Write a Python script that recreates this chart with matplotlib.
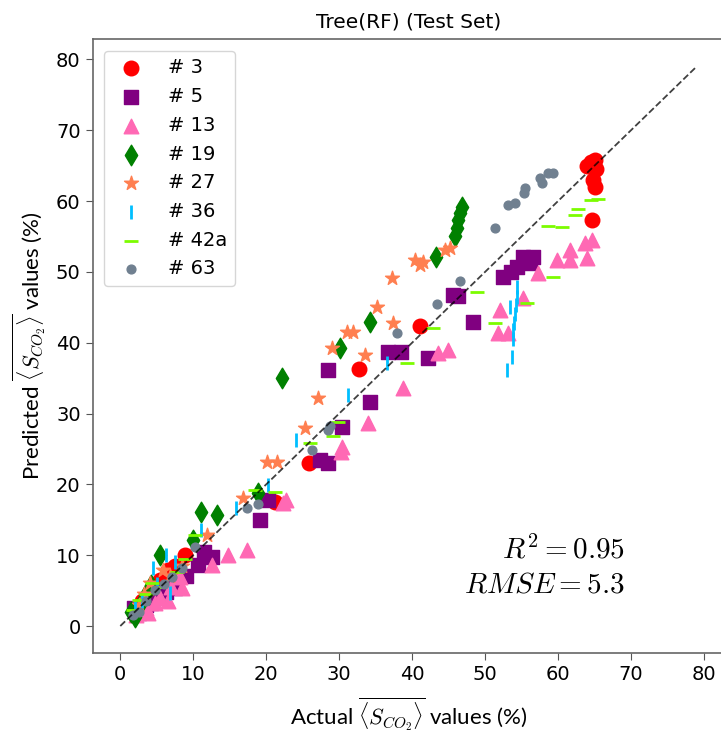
import matplotlib
matplotlib.use("Agg")
import matplotlib.pyplot as plt

# values (actual, predicted), per sample
s3_x = [64.0, 64.5, 65.0, 65.2, 64.8, 65.0, 64.6, 41.1, 32.7, 25.8, 21.2, 8.9, 6.6, 4.5, 3.0, 2.0,
        5.5, 7.5]
s3_y = [65.0, 65.5, 65.8, 64.5, 63.0, 62.0, 57.3, 42.4, 36.3, 23.0, 17.5, 10.0, 7.9, 5.0, 3.5, 2.5,
        6.5, 8.5]

s5_x = [55.2, 56.6, 54.4, 52.5, 56.2, 53.5, 46.3, 45.6, 48.4, 42.2, 36.7, 38.4, 28.5, 34.2,
        30.4, 27.4, 28.4, 20.3, 19.2, 12.6, 10.7, 11.5, 7.5, 5.1, 3.5, 1.9, 2.5, 4.2, 6.2, 9.0]
s5_y = [52.1, 52.1, 50.7, 49.3, 51.2, 50.0, 46.6, 46.7, 42.9, 37.8, 38.7, 38.7, 36.1, 31.6,
        28.1, 23.4, 23.0, 17.8, 15.0, 9.7, 8.6, 10.5, 5.4, 4.1, 3.0, 2.5, 1.8, 3.2, 4.8, 7.0]

s13_x = [59.9, 61.6, 61.6, 63.7, 64.7, 63.9, 57.3, 55.2, 52.1, 51.8, 53.2, 44.9, 43.6, 38.8,
         34.0, 30.4, 30.2, 22.3, 22.7, 17.4, 14.8, 12.6, 8.2, 8.5, 4.8, 3.8, 3.0, 2.2,
         5.5, 6.5, 7.0, 3.5]
s13_y = [51.7, 53.1, 51.7, 54.1, 54.5, 52.0, 49.8, 46.3, 44.6, 41.4, 41.4, 39.0, 38.5, 33.6,
         28.7, 25.3, 24.6, 17.4, 17.8, 10.7, 10.0, 8.6, 6.9, 5.4, 3.2, 1.8, 2.3, 1.5,
         4.0, 3.5, 5.5, 2.5]

s19_x = [46.8, 46.6, 46.3, 46.2, 45.9, 43.2, 34.2, 30.1, 22.2, 18.9, 11.0, 13.3, 10.0, 5.5, 3.5, 2.0,
         2.8, 4.2, 1.5]
s19_y = [59.2, 58.3, 57.3, 56.2, 55.1, 52.1, 42.9, 39.2, 35.0, 18.8, 16.1, 15.7, 12.1, 10.0, 4.5, 1.3,
         3.2, 5.8, 2.0]

s27_x = [45.2, 44.5, 40.4, 41.5, 41.1, 37.3, 35.2, 37.4, 31.9, 31.1, 29.0, 33.6, 27.1, 25.3,
         20.1, 21.5, 16.8, 11.9, 5.8, 4.1, 2.5, 3.3, 6.8, 8.5]
s27_y = [53.4, 53.1, 51.7, 51.4, 51.0, 49.1, 45.0, 42.8, 41.5, 41.5, 39.2, 38.3, 32.2, 28.0,
         23.2, 23.2, 18.1, 12.8, 7.9, 6.1, 3.0, 4.5, 7.0, 8.5]

s36_x = [54.4, 54.3, 54.2, 54.1, 54.0, 53.8, 53.8, 53.4, 53.7, 53.0, 36.6, 31.2, 24.1, 20.3,
         15.8, 11.0, 6.2, 4.5, 6.8, 3.0, 2.0, 5.0, 7.5]
s36_y = [47.8, 46.5, 45.3, 44.0, 42.8, 41.8, 40.5, 45.0, 38.0, 36.1, 37.1, 32.6, 26.3, 19.9,
         16.7, 13.5, 10.0, 8.2, 4.7, 3.5, 2.5, 6.0, 9.0]

s42_x = [64.5, 65.5, 62.7, 62.3, 58.6, 60.5, 59.3, 55.8, 51.4, 48.9, 42.9, 39.3, 29.9, 29.2,
         26.0, 21.2, 18.5, 10.3, 7.8, 4.4, 2.5, 3.5, 5.5, 8.8, 1.8]
s42_y = [60.1, 60.3, 58.9, 58.0, 56.5, 56.3, 49.3, 45.6, 42.8, 47.2, 42.1, 37.1, 28.8, 26.8,
         25.8, 18.9, 19.2, 12.8, 7.6, 6.1, 3.7, 4.5, 5.5, 9.5, 2.2]

s63_x = [59.3, 58.6, 57.5, 57.8, 55.5, 55.3, 54.1, 53.2, 51.4, 46.6, 43.4, 37.9, 28.4, 28.8,
         26.3, 17.4, 18.9, 10.3, 7.1, 4.8, 2.5, 3.5, 6.0, 8.5, 1.8]
s63_y = [64.0, 64.0, 63.2, 62.5, 61.8, 61.1, 59.7, 59.4, 56.2, 48.7, 45.5, 41.4, 27.7, 28.3,
         24.8, 16.7, 17.2, 11.2, 6.9, 5.1, 2.0, 3.5, 6.0, 8.2, 1.5]

line_lo, line_hi = 0.0, 78.9
r2, rmse = 0.95, 5.3

plt.rcParams["mathtext.fontset"] = "cm"

fig = plt.figure(figsize=(7.21, 7.36), dpi=100)
ax = fig.add_axes([92.5 / 721, 83 / 736, 632.5 / 721, 614 / 736])

ax.scatter(s3_x, s3_y, s=110, marker="o", color="red", label="# 3", zorder=3)
ax.scatter(s5_x, s5_y, s=100, marker="s", color="purple", label="# 5", zorder=3)
ax.scatter(s13_x, s13_y, s=110, marker="^", color="hotpink", label="# 13", zorder=3)
ax.scatter(s19_x, s19_y, s=110, marker="d", color="green", label="# 19", zorder=3)
ax.scatter(s27_x, s27_y, s=110, marker="*", color="coral", label="# 27", zorder=3)
ax.scatter(s36_x, s36_y, s=100, marker="|", color="deepskyblue", linewidths=2, label="# 36", zorder=3)
ax.scatter(s42_x, s42_y, s=100, marker="_", color="lawngreen", linewidths=2, label="# 42a", zorder=3)
ax.scatter(s63_x, s63_y, s=40, marker="o", color="slategray", label="# 63", zorder=3)

ax.plot([line_lo, line_hi], [line_lo, line_hi], "k--", lw=1.3, alpha=0.75, zorder=4)

ax.set_xlim(-3.81, 82.87)
ax.set_ylim(-3.81, 82.87)
ax.set_xticks(range(0, 81, 10))
ax.set_yticks(range(0, 81, 10))
ax.tick_params(labelsize=14, length=5, color="#555555")
for sp in ax.spines.values():
    sp.set_color("#666666")
    sp.set_linewidth(1.2)

ax.set_title("Tree(RF) (Test Set)", fontsize=14.5, pad=8)
ax.set_xlabel(r"Actual $\overline{\langle S_{CO_2}\rangle}$ values (%)", fontsize=16,
              family="Lato", labelpad=8)
ax.set_ylabel(r"Predicted $\overline{\langle S_{CO_2}\rangle}$ values (%)", fontsize=16,
              family="Lato", labelpad=6)

ax.text(0.842, 0.088, f"$R^2 = {r2}$\n$RMSE = {rmse}$",
        transform=ax.transAxes, ha="right", va="bottom", fontsize=21, linespacing=1.3)

ax.legend(loc="upper left", fontsize=14, borderaxespad=0.6, handletextpad=0.9)

fig.savefig("out.png", dpi=100)
